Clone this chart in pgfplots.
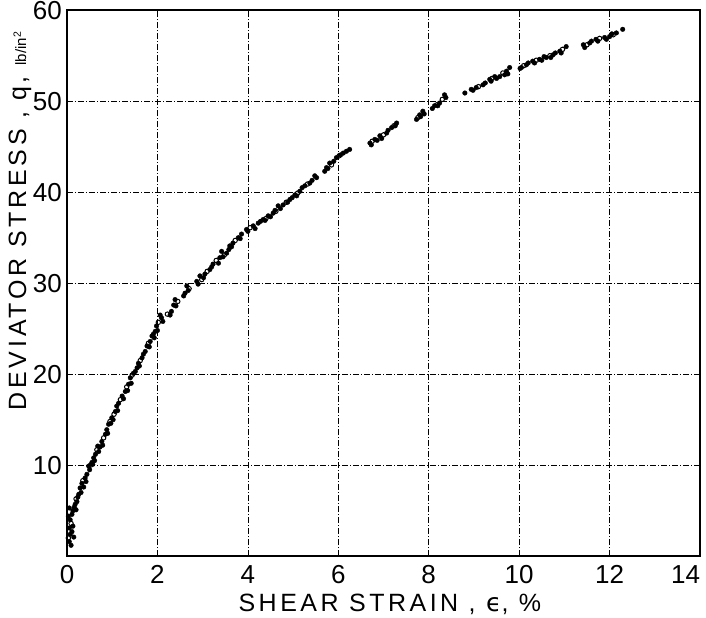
\documentclass[border=0pt]{standalone}
\usepackage{fontspec}
\setmainfont{Liberation Sans}
\newfontfamily\dejavu{DejaVu Sans}
\usepackage{pgfplots}
\pgfplotsset{compat=1.18}
\begin{document}
\begin{tikzpicture}
\begin{axis}[
  width=633pt, height=546pt, scale only axis,
  xmin=0, xmax=14, ymin=0, ymax=60,
  xtick={0,2,...,14}, ytick={10,20,...,60},
  xticklabels={0,2,4,6,8,10,12,\makebox[0pt][r]{14}},
  grid=major,
  major grid style={black, line width=0.5pt, dash pattern=on 6pt off 2pt on 1pt off 2pt},
  axis line style={line width=1.6pt},
  major tick length=0pt,
  tick label style={font=\fontsize{26}{26}\selectfont, inner sep=1pt},
  /pgf/number format/assume math mode=true,
  xticklabel style={yshift=-8pt},
  yticklabel style={xshift=-4pt},
  clip=false,
]
% filled points
\addplot[only marks, mark=*, mark size=2.3pt, black] coordinates {
(0.05,1.6)(0.07,2.4)(0.11,2.7)(0.05,3.1)(0.13,3.3)(0.07,4.0)(0.11,4.6)(0.05,5.3)
(0.13,5.0)(0.18,5.7)(0.22,6.0)(0.16,5.4)(0.26,6.8)(0.29,7.5)(0.33,8.0)(0.37,7.6)
(0.40,8.6)(0.44,9.0)(0.48,9.9)(0.55,10.3)(0.59,10.8)(0.63,11.2)(0.70,11.5)(0.68,12.1)
(0.77,12.6)(0.85,13.4)(0.88,13.9)(0.92,14.5)(0.99,15.2)(1.07,15.9)(1.10,16.5)(1.14,16.8)
(1.22,17.6)(1.29,18.1)(1.36,18.9)(1.40,19.6)(1.47,20.1)(1.55,20.7)(1.58,21.2)(1.66,21.8)
(1.73,22.5)(1.77,23.1)(1.84,23.6)(1.88,24.2)(1.95,24.7)(1.91,24.4)(1.98,25.3)(2.09,26.2)
(2.06,26.5)(2.31,26.9)(2.39,28.2)(2.36,27.6)(2.61,28.9)(2.65,29.7)(2.87,30.2)(2.94,30.8)
(3.05,31.0)(3.16,31.5)(3.23,32.1)(3.38,32.8)(3.42,33.5)(3.53,33.3)(3.60,34.1)(3.67,34.4)
(3.79,35.0)(3.86,35.4)(3.97,35.9)(4.12,36.3)(4.23,36.6)(4.34,37.0)(4.45,37.4)(4.56,37.7)
(4.67,38.5)(4.78,38.6)(4.93,39.2)(5.04,39.7)(5.15,40.1)(5.26,40.7)(5.37,41.0)(5.48,41.8)
(5.70,42.3)(5.74,42.7)(5.81,43.2)(5.96,43.8)(6.11,44.3)(6.25,44.7)(6.70,45.4)(6.81,45.8)
(6.92,46.2)(7.07,46.5)(7.18,47.1)(7.29,47.6)(7.73,48.0)(7.80,48.5)(7.87,48.9)(8.13,49.5)
(8.24,49.8)(8.35,50.7)(8.80,50.9)(8.94,51.3)(9.05,51.5)(9.20,51.8)(9.35,52.4)(9.46,52.7)
(9.57,52.7)(9.68,52.9)(9.72,53.3)(9.79,53.7)(10.05,53.7)(10.16,54.0)(10.30,54.4)(10.45,54.6)
(10.60,54.8)(10.75,55.1)(10.90,55.5)(11.04,56.0)(11.45,55.9)(11.56,56.4)(11.70,56.8)(11.89,57.0)
(12.0,57.1)(12.15,57.5)(12.29,57.9)
(0.09,1.2)(0.15,2.1)(0.03,4.4)(0.20,5.1)(0.24,6.5)(0.31,7.0)(0.42,8.2)(0.50,9.5)
(0.57,10.1)(0.61,10.5)(0.73,12.0)(0.79,12.2)(0.90,13.5)(0.97,14.6)(1.02,15.0)(1.12,16.0)
(1.25,17.3)(1.34,18.2)(1.42,19.0)(1.51,20.3)(1.60,20.9)(1.69,22.2)(1.82,23.0)(1.93,24.0)
(2.00,24.8)(2.12,25.8)(2.28,26.5)(2.41,27.5)(2.58,28.6)(2.68,29.2)(2.90,29.9)(3.02,30.6)
(3.20,31.8)(3.35,32.2)(3.45,32.9)(3.58,33.7)(3.64,34.0)(3.83,34.9)(4.00,35.7)(4.16,36.0)
(4.28,36.8)(4.38,36.9)(4.50,37.3)(4.60,38.0)(4.72,38.2)(4.88,38.9)(4.98,39.4)(5.08,39.6)
(5.20,40.5)(5.42,41.3)(5.52,41.6)(5.77,42.6)(5.90,43.4)(6.05,44.1)(6.18,44.5)(6.73,45.2)
(6.86,45.7)(6.96,45.9)(7.10,46.8)(7.26,47.3)(7.82,48.3)(7.90,48.6)(8.08,49.2)(8.20,49.5)
(8.38,50.4)(8.98,51.2)(9.25,52.0)(9.38,52.2)(9.50,52.5)(9.75,53.0)(10.02,53.6)(10.20,54.2)
(10.34,54.2)(10.50,54.5)(10.55,54.9)(10.70,54.8)(10.80,55.3)(10.93,55.3)(11.42,56.2)(11.60,56.6)
(11.74,56.6)(11.93,56.8)(12.05,57.4)
};
% open points
\addplot[only marks, mark=o, mark size=2.2pt, mark options={line width=1pt}, black] coordinates {
(0.03,2.0)(0.09,3.6)(0.20,6.3)(0.35,8.3)(0.52,10.0)(0.66,11.7)(0.81,13.0)(0.95,14.8)
(1.04,15.6)(1.18,17.2)(1.32,18.6)(1.44,19.9)(1.62,21.5)(1.80,23.4)(2.02,25.7)(2.22,26.6)
(2.45,28.0)(2.70,29.4)(2.98,30.4)(3.10,31.3)(3.30,32.5)(3.48,33.1)(3.72,34.7)(4.05,36.1)
(4.40,37.1)(4.62,37.9)(4.85,38.9)(5.10,39.9)(5.32,40.9)(5.85,43.0)(6.02,44.0)(6.75,45.6)
(7.00,46.3)(7.23,47.3)(7.76,48.2)(8.18,49.6)(8.30,50.2)(9.10,51.6)(9.40,52.5)(9.64,53.1)
(10.10,53.9)(10.38,54.5)(10.68,55.0)(10.96,55.7)(11.50,56.2)(11.78,56.9)(12.08,57.3)
};
\node[rotate=90, font=\fontsize{25}{25}\selectfont\addfontfeature{LetterSpace=15}]
  at ([xshift=-47pt]rel axis cs:0,0.614)
  {DEVIATOR STRESS , q, {\fontsize{15}{15}\selectfont\addfontfeature{LetterSpace=0}lb/in\textsuperscript{2}}};
\node[font=\fontsize{25}{25}\selectfont\addfontfeature{LetterSpace=14}]
  at ([yshift=-48pt]rel axis cs:0.51,0)
  {SHEAR STRAIN , {\dejavu ϵ}, \%};
\end{axis}
\path ([shift={(-67pt,-61pt)}]current axis.south west) rectangle ([shift={(6pt,9pt)}]current axis.north east);
\end{tikzpicture}
\end{document}
